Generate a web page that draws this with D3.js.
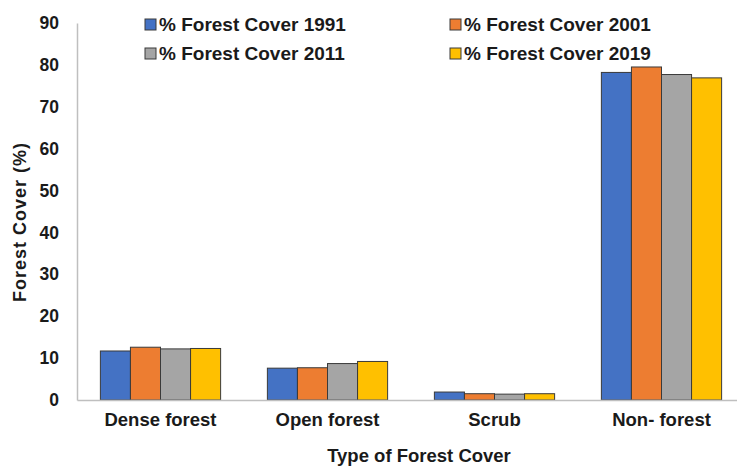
<!DOCTYPE html>
<html>
<head>
<meta charset="utf-8">
<script src="https://cdn.jsdelivr.net/npm/d3@7"></script>
<style>
  body { margin: 0; background: #fff; }
  svg { display: block; }
  text { font-family: "Liberation Sans", Arial, sans-serif; font-weight: bold; fill: #1a1a1a; }
</style>
</head>
<body>
<svg id="chart" width="737" height="468"></svg>
<script>
const categories = ["Dense forest", "Open forest", "Scrub", "Non- forest"];
const seriesNames = ["% Forest Cover 1991", "% Forest Cover 2001", "% Forest Cover 2011", "% Forest Cover 2019"];
const cover1991 = [11.7, 7.6, 1.9, 78.2];
const cover2001 = [12.6, 7.7, 1.5, 79.5];
const cover2011 = [12.2, 8.7, 1.4, 77.7];
const cover2019 = [12.3, 9.2, 1.5, 76.9];
const yTicks = [0, 10, 20, 30, 40, 50, 60, 70, 80, 90];
const colors = ["#4472C4", "#ED7D31", "#A5A5A5", "#FFC000"];

const seriesValues = [cover1991, cover2001, cover2011, cover2019];

const svg = d3.select("#chart");
const mLeft = 77, mRight = 745, mTop = 23, mBottom = 400;

const x0 = d3.scaleBand().domain(categories).range([mLeft, mRight]).paddingInner(0.28).paddingOuter(0.14);
const x1 = d3.scaleBand().domain(d3.range(seriesNames.length)).range([0, x0.bandwidth()]).padding(0);
const y = d3.scaleLinear().domain([0, 90]).range([mBottom, mTop]);

// bars
const groups = svg.append("g").selectAll("g")
  .data(categories)
  .join("g")
  .attr("transform", d => `translate(${x0(d)},0)`);

groups.selectAll("rect")
  .data((c, ci) => seriesValues.map((vals, si) => ({ si, v: vals[ci] })))
  .join("rect")
  .attr("x", d => x1(d.si))
  .attr("width", x1.bandwidth())
  .attr("y", d => y(d.v))
  .attr("height", d => y(0) - y(d.v))
  .attr("fill", d => colors[d.si])
  .attr("stroke", "#3a3a3a")
  .attr("stroke-width", 1);

// y axis
const yAxis = svg.append("g")
  .attr("transform", `translate(${mLeft},0)`)
  .call(d3.axisLeft(y).tickValues(yTicks).tickSize(0).tickPadding(18));
yAxis.select(".domain").attr("stroke", "#bfbfbf").attr("stroke-width", 1.5);
yAxis.selectAll("text").style("font-size", "17.5px").attr("fill", "#1a1a1a");

// x axis
const xAxis = svg.append("g")
  .attr("transform", `translate(0,${mBottom})`)
  .call(d3.axisBottom(x0).tickSize(0).tickPadding(13));
xAxis.select(".domain").attr("stroke", "#bfbfbf").attr("stroke-width", 1.5);
xAxis.selectAll("text").style("font-size", "18.5px").attr("fill", "#1a1a1a");

// axis titles
svg.append("text")
  .attr("x", 419).attr("y", 462)
  .attr("text-anchor", "middle")
  .style("font-size", "18.5px")
  .text("Type of Forest Cover");

svg.append("text")
  .attr("transform", `translate(26,${222}) rotate(-90)`)
  .attr("text-anchor", "middle")
  .style("font-size", "18px")
  .style("letter-spacing", "1px")
  .text("Forest Cover (%)");

// legend
const legendPos = [[145, 24], [450, 24], [145, 53], [450, 53]];
const legend = svg.append("g").selectAll("g")
  .data(seriesNames)
  .join("g")
  .attr("transform", (d, i) => `translate(${legendPos[i][0]},${legendPos[i][1]})`);
legend.append("rect")
  .attr("x", 0).attr("y", -5).attr("width", 11).attr("height", 11)
  .attr("fill", (d, i) => colors[i])
  .attr("stroke", "#3a3a3a").attr("stroke-width", 1);
legend.append("text")
  .attr("x", 14).attr("y", 0).attr("dy", "0.35em")
  .style("font-size", "19px")
  .text(d => d);
</script>
</body>
</html>
